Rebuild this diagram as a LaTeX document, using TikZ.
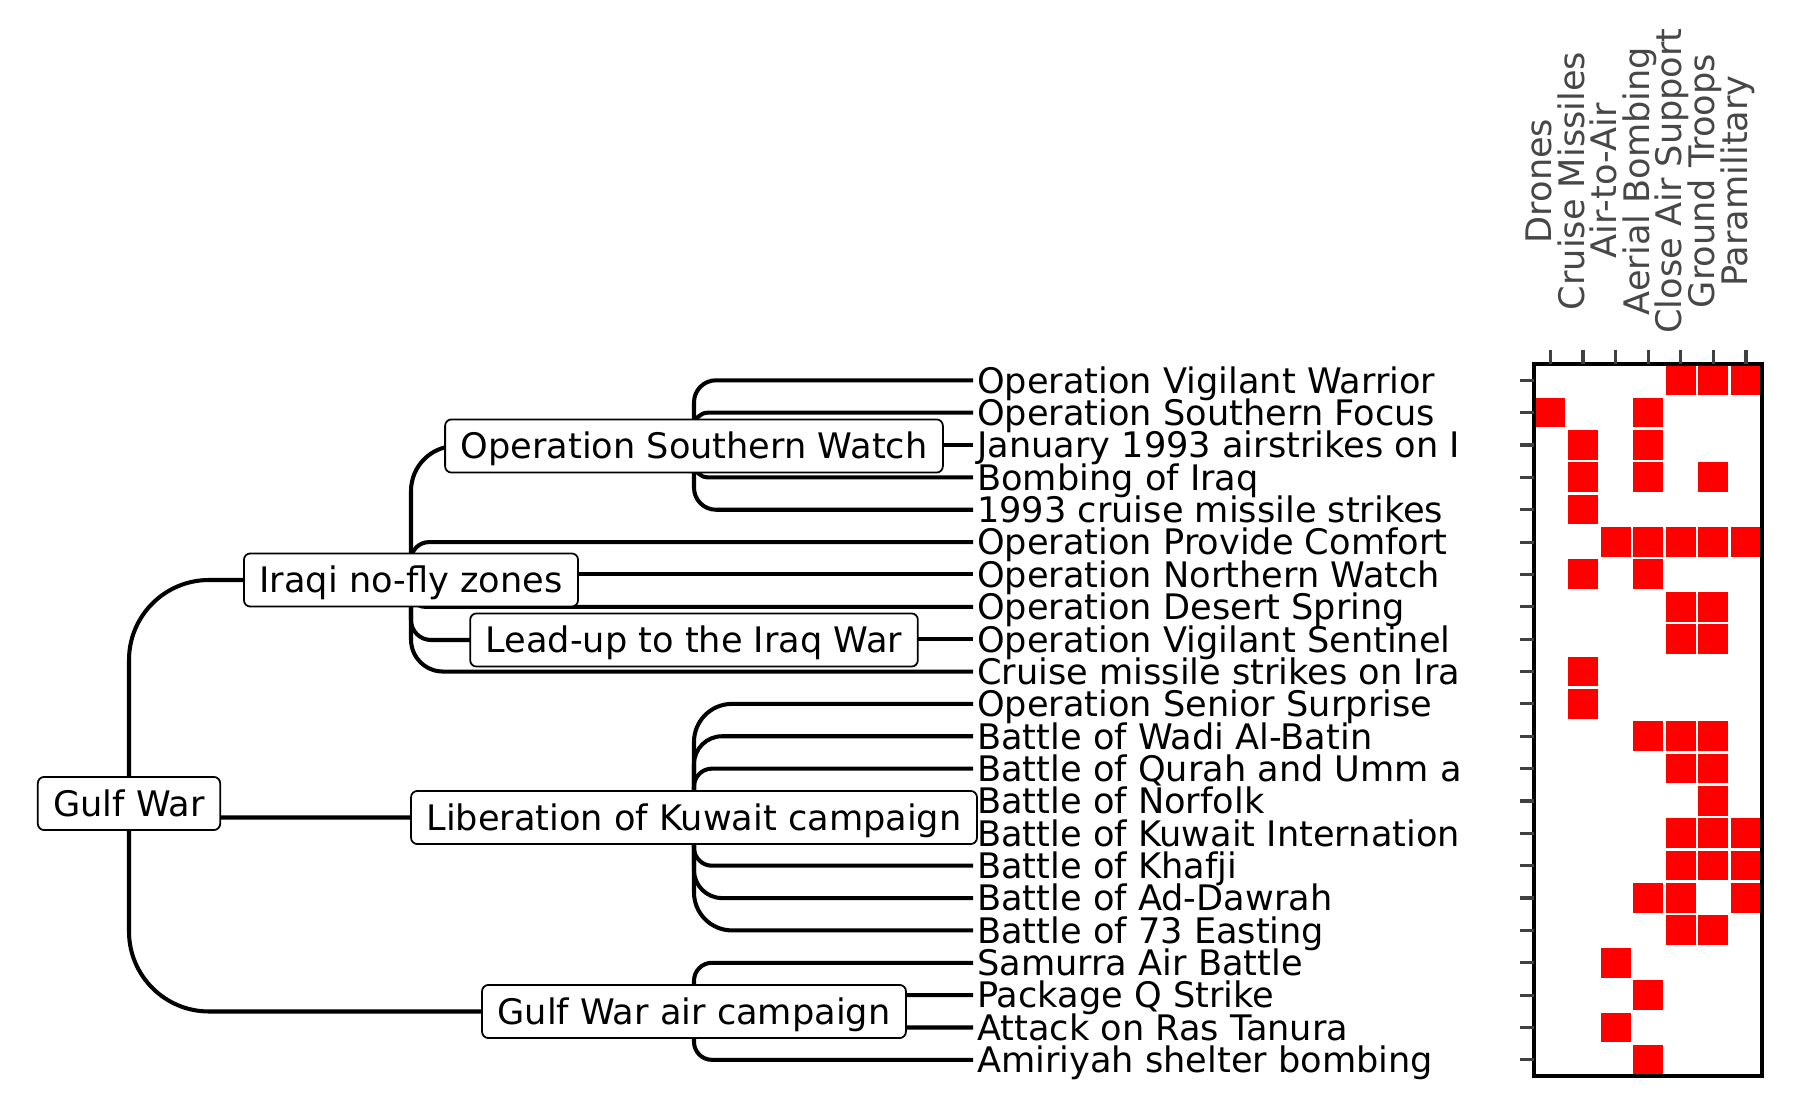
\documentclass[tikz,border=0pt]{standalone}
\usepackage{fontspec}
\setmainfont{DejaVu Sans}
\usetikzlibrary{positioning, backgrounds}

\tikzset{
  box/.style={draw, line width=0.5pt, fill=white, rounded corners=1.8pt, inner xsep=4.4pt, inner ysep=3.9pt, text height=7.3pt, text depth=0pt},
  leaf/.style={anchor=west, inner xsep=1pt, inner ysep=0pt, text height=7.3pt, text depth=0pt},
  branch/.style={line width=1.15pt, rounded corners=#1},
  branch/.default=0pt,
  tick/.style={line width=0.9pt, black!75},
  collabel/.style={rotate=90, anchor=base, inner sep=0pt, text=black!72},
}

\begin{document}
\begin{tikzpicture}[x=0.01cm, y=-0.01cm]
  \useasboundingbox (0,0) rectangle (1800,1113);

  % nodes %
  \node[box] (gulf) at (129,803.5) {Gulf War};
  \node[box] (nofly) at (411,580) {Iraqi no-fly zones};
  \node[box] (southern) at (694,446) {Operation Southern Watch};
  \node[box] (leadup) at (694,640) {Lead-up to the Iraq War};
  \node[box] (kuwait) at (694,817.5) {Liberation of Kuwait campaign};
  \node[box] (aircamp) at (694,1011.5) {Gulf War air campaign};

  % leaves %
  \foreach \i/\name in {0/Operation Vigilant Warrior, 1/Operation Southern Focus,
      2/January 1993 airstrikes on I, 3/Bombing of Iraq, 4/1993 cruise missile strikes,
      5/Operation Provide Comfort, 6/Operation Northern Watch, 7/Operation Desert Spring,
      8/Operation Vigilant Sentinel, 9/Cruise missile strikes on Ira,
      10/Operation Senior Surprise, 11/Battle of Wadi Al-Batin, 12/Battle of Qurah and Umm a,
      13/Battle of Norfolk, 14/Battle of Kuwait Internation, 15/Battle of Khafji,
      16/Battle of Ad-Dawrah, 17/Battle of 73 Easting, 18/Samurra Air Battle,
      19/Package Q Strike, 20/Attack on Ras Tanura, 21/Amiriyah shelter bombing}
    \node[leaf] (l\i) at (973,{380.3+32.36*\i}) {\name};

  % edges %
  \begin{scope}[on background layer]
    \draw[branch=0.8cm] (gulf.center) |- (nofly.center);
    \draw[branch=1pt] (gulf.center) |- (kuwait.center);
    \draw[branch=0.8cm] (gulf.center) |- (aircamp.center);

    \draw[branch=0.45cm] (nofly.center) |- (southern.center);
    \draw[branch=0.18cm] (nofly.center) |- (l5.west);
    \draw[branch] (nofly.center) |- (l6.west);
    \draw[branch=0.14cm] (nofly.center) |- (l7.west);
    \draw[branch=0.2cm] (nofly.center) |- (leadup.center);
    \draw[branch=0.32cm] (nofly.center) |- (l9.west);

    \draw[branch=0.22cm] (southern.center) |- (l0.west);
    \draw[branch=0.14cm] (southern.center) |- (l1.west);
    \draw[branch] (southern.center) |- (l2.west);
    \draw[branch=0.14cm] (southern.center) |- (l3.west);
    \draw[branch=0.22cm] (southern.center) |- (l4.west);

    \draw[branch] (leadup.center) |- (l8.west);

    \draw[branch=0.38cm] (kuwait.center) |- (l10.west);
    \draw[branch=0.28cm] (kuwait.center) |- (l11.west);
    \draw[branch=0.18cm] (kuwait.center) |- (l12.west);
    \draw[branch=0.08cm] (kuwait.center) |- (l13.west);
    \draw[branch=0.08cm] (kuwait.center) |- (l14.west);
    \draw[branch=0.18cm] (kuwait.center) |- (l15.west);
    \draw[branch=0.28cm] (kuwait.center) |- (l16.west);
    \draw[branch=0.38cm] (kuwait.center) |- (l17.west);

    \draw[branch=0.18cm] (aircamp.center) |- (l18.west);
    \draw[branch=0.06cm] (aircamp.center) |- (l19.west);
    \draw[branch=0.06cm] (aircamp.center) |- (l20.west);
    \draw[branch=0.18cm] (aircamp.center) |- (l21.west);
  \end{scope}

  % heatmap %
  \foreach \r/\cols in {0/{4,5,6}, 1/{0,3}, 2/{1,3}, 3/{1,3,5}, 4/{1}, 5/{2,3,4,5,6},
      6/{1,3}, 7/{4,5}, 8/{4,5}, 9/{1}, 10/{1}, 11/{3,4,5}, 12/{4,5}, 13/{5},
      14/{4,5,6}, 15/{4,5,6}, 16/{3,4,6}, 17/{4,5}, 18/{2}, 19/{3}, 20/{2}, 21/{3}}
    \foreach \c in \cols
      \fill[red] ({1534+32.6*\c+1.3},{364+32.36*\r+1.3}) rectangle ({1534+32.6*(\c+1)-1.3},{364+32.36*(\r+1)-1.3});
  \draw[line width=1pt] (1534,364) rectangle (1762,1076);

  \foreach \r in {0,...,21}
    \draw[tick] (1520,{380.3+32.36*\r}) -- (1534,{380.3+32.36*\r});
  \foreach \c/\lab in {0/Drones, 1/Cruise Missiles, 2/Air-to-Air, 3/Aerial Bombing,
      4/Close Air Support, 5/Ground Troops, 6/Paramilitary} {
    \draw[tick] ({1550.3+32.6*\c},350) -- ({1550.3+32.6*\c},364);
    \node[collabel] (col\c) at ({1551.5+32.6*\c},181) {\lab};
  }
\end{tikzpicture}
\end{document}
